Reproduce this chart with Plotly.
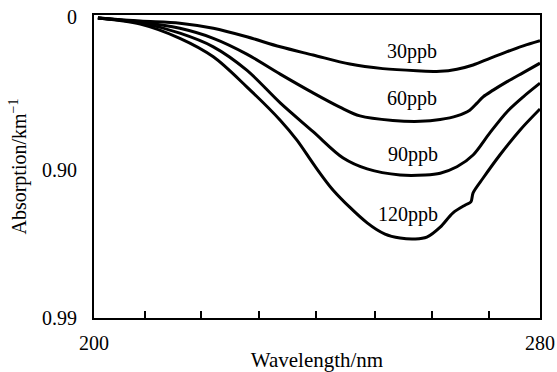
import plotly.graph_objects as go

# ---- data ----
wl30 = [200.7, 208.3, 215.4, 221.4, 227.4, 233.4, 239.3, 245.9, 251.8, 257.9, 262.1, 265.1, 268.0, 271.0, 274.1, 277.0, 280.0]
ab30 = [0.010, 0.020, 0.027, 0.044, 0.072, 0.105, 0.132, 0.162, 0.177, 0.184, 0.186, 0.179, 0.165, 0.143, 0.121, 0.102, 0.085]

wl60 = [200.7, 208.3, 215.4, 221.4, 227.4, 233.4, 239.3, 244.1, 247.7, 253.6, 258.5, 262.1, 265.1, 267.4, 268.7, 269.8, 271.6, 274.1, 277.0, 280.0]
ab60 = [0.010, 0.023, 0.044, 0.077, 0.129, 0.195, 0.257, 0.304, 0.333, 0.348, 0.351, 0.345, 0.333, 0.314, 0.291, 0.270, 0.248, 0.220, 0.190, 0.159]

wl90 = [200.7, 208.3, 215.4, 221.4, 227.4, 233.4, 239.3, 244.7, 249.0, 254.9, 259.4, 262.1, 265.1, 268.0, 271.0, 274.1, 277.0, 280.0]
ab90 = [0.010, 0.026, 0.060, 0.105, 0.182, 0.290, 0.385, 0.472, 0.508, 0.528, 0.528, 0.522, 0.501, 0.462, 0.389, 0.319, 0.270, 0.225]

wl120 = [200.7, 208.3, 215.4, 221.4, 227.4, 233.4, 236.4, 239.6, 242.9, 249.0, 252.2, 254.9, 257.6, 259.7, 262.1, 264.4, 266.6, 267.6, 268.0, 269.8, 272.8, 276.4, 280.0]
ab120 = [0.010, 0.030, 0.077, 0.138, 0.237, 0.347, 0.413, 0.498, 0.578, 0.686, 0.723, 0.736, 0.739, 0.733, 0.700, 0.653, 0.627, 0.617, 0.587, 0.538, 0.462, 0.380, 0.310]

series_names = ["30ppb", "60ppb", "90ppb", "120ppb"]

x_tick_vals = [200, 209.15, 219.14, 229.60, 239.82, 250.35, 260.63, 270.85, 280]
x_tick_text = ["200", "", "", "", "", "", "", "", "280"]
y_tick_vals = [0.005, 0.51, 1.0]
y_tick_text = ["0", "0.90", "0.99"]

FONT = "Liberation Serif, Times New Roman, serif"

fig = go.Figure()
for wl, ab, name in zip([wl30, wl60, wl90, wl120], [ab30, ab60, ab90, ab120], series_names):
    fig.add_trace(go.Scatter(
        x=wl, y=ab, mode="lines", name=name,
        line=dict(color="black", width=3, shape="spline", smoothing=0.9),
        showlegend=False, hoverinfo="skip",
    ))

label_pos = {"30ppb": (257.0, 0.122), "60ppb": (257.0, 0.274),
             "90ppb": (257.2, 0.462), "120ppb": (256.3, 0.660)}
for name in series_names:
    lx, ly = label_pos[name]
    fig.add_annotation(x=lx, y=ly, text=name, showarrow=False,
                       font=dict(family=FONT, size=20, color="black"),
                       xanchor="center", yanchor="middle")

fig.update_layout(
    width=557, height=372,
    margin=dict(l=94, r=17, t=15, b=54),
    paper_bgcolor="white", plot_bgcolor="white",
    font=dict(family=FONT, size=20, color="black"),
    xaxis=dict(
        range=[200, 280], tickvals=x_tick_vals, ticktext=x_tick_text,
        ticks="inside", ticklen=7, tickwidth=2, tickcolor="black",
        showline=True, linewidth=2, linecolor="black", mirror=True,
        showgrid=False, zeroline=False,
        ticklabelstandoff=6,
        title=dict(text="Wavelength/nm", font=dict(family=FONT, size=21), standoff=0),
        automargin=False,
    ),
    yaxis=dict(
        range=[1, 0], tickvals=y_tick_vals, ticktext=y_tick_text,
        ticks="", showline=True, linewidth=2, linecolor="black", mirror=True,
        showgrid=False, zeroline=False,
        ticklabelstandoff=11,
        title=dict(text="Absorption/km<sup>−1</sup>", font=dict(family=FONT, size=20), standoff=10),
        automargin=False,
    ),
)

fig.write_html("out.html", post_script="document.body.style.margin='0';",
               config={"displayModeBar": False, "staticPlot": True})
